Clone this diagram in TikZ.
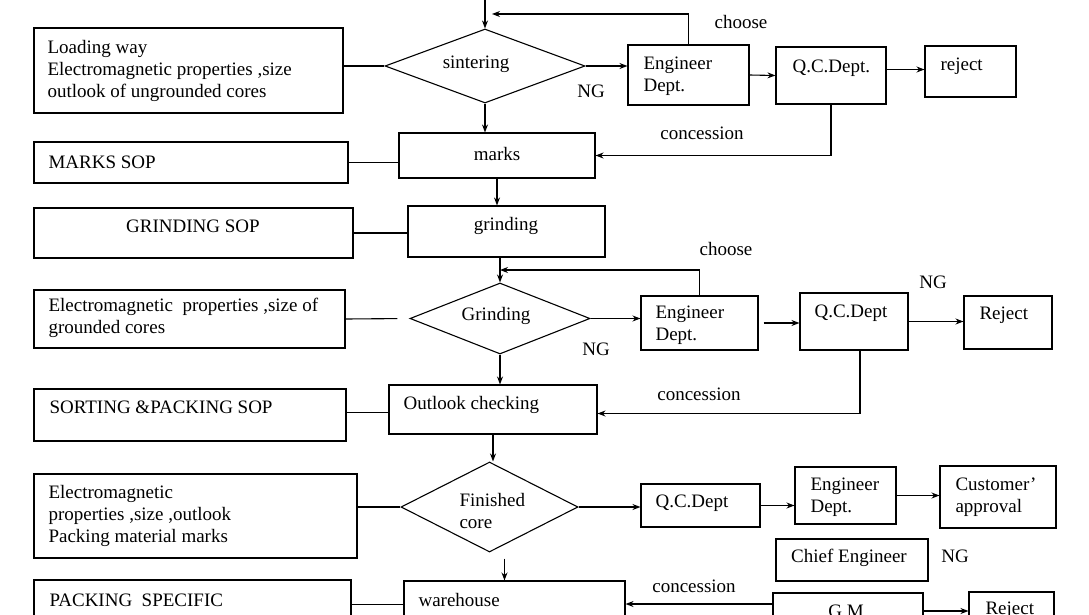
\documentclass[tikz,border=0pt]{standalone}
\usepackage{fontspec}
\setmainfont{Liberation Serif}
\usetikzlibrary{shapes.geometric,arrows.meta}

\begin{document}
\begin{tikzpicture}[x=1pt,y=-1pt,line width=1.1pt,
box/.style={draw,inner sep=0pt},
dia/.style={draw,diamond,inner sep=0pt},
txt/.style={inner sep=0pt,align=left,anchor=west},
arr/.style={-{Stealth[length=8pt,width=6pt]}},
every node/.style={font=\fontsize{19}{22}\selectfont}]
\useasboundingbox(0,0)rectangle(1089,615);
\fill[white](0,0)rectangle(1089,615);
\clip(0,0)rectangle(1089,615);
\node[box,minimum width=309,minimum height=85](load)at(188.5,70.5){};
\node[dia,minimum width=200,minimum height=74](sinter)at(485,66){};
\node[box,minimum width=121,minimum height=60](eng1)at(688.5,75){};
\node[box,minimum width=110,minimum height=57](qc1)at(831,75.5){};
\node[box,minimum width=91,minimum height=51](rej1)at(970.5,71.5){};
\node[box,minimum width=196,minimum height=45](marks)at(497,155.5){};
\node[box,minimum width=314,minimum height=41](markssop)at(191,162.5){};
\node[box,minimum width=197,minimum height=51](grind)at(506.5,231.5){};
\node[box,minimum width=319,minimum height=50](grindsop)at(193.5,233){};
\node[dia,minimum width=180,minimum height=71](gdia)at(500,318.5){};
\node[box,minimum width=311,minimum height=58](emgr)at(189.5,319){};
\node[box,minimum width=117,minimum height=54](eng2)at(699.5,323){};
\node[box,minimum width=108,minimum height=57](qc2)at(854,321.5){};
\node[box,minimum width=88,minimum height=53](rej2)at(1008,322.5){};
\node[box,minimum width=208,minimum height=49](outl)at(493,409.5){};
\node[box,minimum width=312,minimum height=52](sort)at(190,415){};
\node[dia,minimum width=177,minimum height=90](fdia)at(489.5,507){};
\node[box,minimum width=323,minimum height=84](emfin)at(195.5,516){};
\node[box,minimum width=119,minimum height=43](qc3)at(700.5,505.5){};
\node[box,minimum width=101,minimum height=57](eng3)at(845.5,495.5){};
\node[box,minimum width=116,minimum height=62](cust)at(998,497){};
\node[box,minimum width=152,minimum height=42](chief)at(852,560){};
\node[box,minimum width=221,minimum height=59](ware)at(514.5,610.5){};
\node[box,minimum width=317,minimum height=60](pack)at(192.5,610){};
\node[box,minimum width=150,minimum height=57](gm)at(848,621.5){};
\node[box,minimum width=85,minimum height=58](rej3)at(1011.5,621){};
\node[txt](loadt)at(47,71){Loading way\\Electromagnetic properties ,size\\outlook of ungrounded cores};
\node[inner sep=0pt](sintert)at(476,64){sintering};
\node[txt](eng1t)at(643,76){Engineer\\Dept.};
\node[txt](qc1t)at(792,68){Q.C.Dept.};
\node[txt](rej1t)at(940,66){reject};
\node[inner sep=0pt](markst)at(497,154){marks};
\node[txt](markssopt)at(48,162){MARKS SOP};
\node[inner sep=0pt](grindt)at(506,226){grinding};
\node[inner sep=0pt](grindsopt)at(193,226){GRINDING SOP};
\node[inner sep=0pt](gdiat)at(496,316){Grinding};
\node[txt](emgrt)at(48,318){Electromagnetic~ properties ,size of\\grounded cores};
\node[txt](eng2t)at(655,325){Engineer\\Dept.};
\node[txt](qc2t)at(814,313){Q.C.Dept};
\node[txt](rej2t)at(979,315){Reject};
\node[txt](outlt)at(403,405){Outlook checking};
\node[txt](sortt)at(49,407){SORTING \&PACKING SOP};
\node[txt](fdiat)at(459,511){Finished\\core};
\node[txt](emfint)at(48,516){Electromagnetic\\properties ,size ,outlook\\Packing material marks};
\node[txt](qc3t)at(655,503){Q.C.Dept};
\node[txt](eng3t)at(810,497){Engineer\\Dept.};
\node[txt](custt)at(955,497){Customer’\\approval};
\node[inner sep=0pt](chieft)at(849,558){Chief Engineer};
\node[txt](waret)at(418,600){warehouse};
\node[txt](packt)at(49,600){PACKING~ SPECIFIC};
\node[inner sep=0pt](gmt)at(846,611){G.M};
\node[txt](rej3t)at(985,610){Reject};
\node(choose1)at(741,22){choose};
\node(ng1)at(591,91){NG};
\node(conc1)at(702,133){concession};
\node(choose2)at(726,249){choose};
\node(ng2)at(933,282){NG};
\node(ng3)at(596,349){NG};
\node(conc2)at(699,394){concession};
\node(ng4)at(955,556){NG};
\node(conc3)at(694,586){concession};
\coordinate(topin)at(485,0);
\coordinate(fb1)at(492,14);
\coordinate(fb2)at(500,270);
\draw[arr](topin)--(sinter.north);
\draw[arr](eng1.north)|-(fb1);
\draw(sinter.west-|load.east)--(sinter.west);
\draw[arr](sinter.east)--(sinter.east-|eng1.west);
\draw[arr](eng1.east)--(qc1.west);
\draw[arr]([yshift=6]qc1.east)--([yshift=6]qc1.east-|rej1.west);
\draw[arr](qc1.south)|-(marks.east);
\draw[arr](sinter.south)--(sinter.south|-marks.north);
\draw(markssop.east)--(markssop.east-|marks.west);
\draw[arr](marks.south)--(marks.south|-grind.north);
\draw(grindsop.east)--(grindsop.east-|grind.west);
\draw[arr](gdia.north|-grind.south)--(gdia.north);
\draw[arr](eng2.north)|-(fb2);
\draw[shorten >=12pt](emgr.east)--(gdia.west);
\draw[arr](gdia.east)--(gdia.east-|eng2.west);
\draw[arr,shorten <=5pt](eng2.east)--(eng2.east-|qc2.west);
\draw[arr](qc2.east)--(qc2.east-|rej2.west);
\draw[arr]([xshift=6]qc2.south)|-([yshift=-4]outl.east);
\draw[arr](gdia.south)--(gdia.south|-outl.north);
\draw([yshift=-3]outl.west-|sort.east)--([yshift=-3]outl.west);
\draw[arr](outl.south)--(outl.south|-fdia.north);
\draw(fdia.west-|emfin.east)--(fdia.west);
\draw[arr](fdia.east)--(fdia.east-|qc3.west);
\draw[arr](qc3.east)--(qc3.east-|eng3.west);
\draw[arr](eng3.east)--(eng3.east-|cust.west);
\draw[arr,shorten <=6pt]([xshift=15]fdia.south)--([xshift=15]fdia.south|-ware.north);
\draw([yshift=6]ware.west-|pack.east)--([yshift=6]ware.west);
\draw[arr]([yshift=17.5]gm.west)--([yshift=6.5]ware.east);
\draw[arr]([yshift=10.5]gm.east)--([yshift=10.5]gm.east-|rej3.west);
\end{tikzpicture}
\end{document}
